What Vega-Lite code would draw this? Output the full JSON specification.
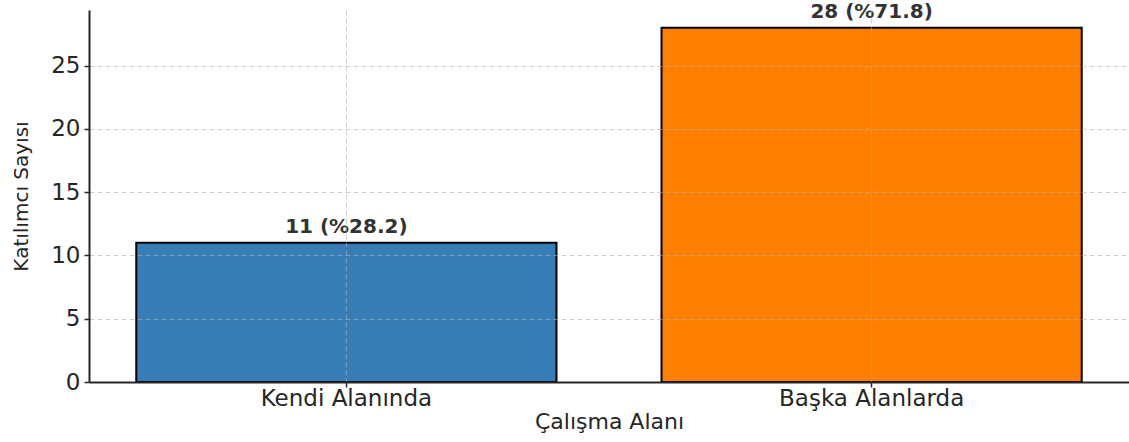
{
  "$schema": "https://vega.github.io/schema/vega-lite/v6.json",
  "width": 1040,
  "height": 372,
  "autosize": {"type": "none"},
  "padding": {"left": 89, "top": 10, "right": 0, "bottom": 60},
  "background": "white",
  "config": {"view": {"stroke": null}, "font": "DejaVu Sans"},
  "data": {
    "values": [
      {"area": "Kendi Alanında", "count": 11, "label": "11 (%28.2)"},
      {"area": "Başka Alanlarda", "count": 28, "label": "28 (%71.8)"}
    ]
  },
  "encoding": {
    "x": {
      "field": "area",
      "type": "nominal",
      "sort": null,
      "scale": {"paddingInner": 0.2, "paddingOuter": 0.09},
      "axis": {
        "title": "Çalışma Alanı",
        "titleFont": "DejaVu Sans",
        "titleFontSize": 22,
        "titleFontWeight": "normal",
        "titleColor": "#262626",
        "titleY": 46,
        "titleBaseline": "alphabetic",
        "labelAngle": 0,
        "labelLimit": 0,
        "labelFont": "DejaVu Sans",
        "labelFontSize": 23,
        "labelColor": "#262626",
        "labelPadding": 0,
        "tickSize": 5,
        "tickColor": "#262626",
        "tickWidth": 1.5,
        "domainColor": "#262626",
        "domainWidth": 2,
        "grid": true,
        "gridColor": "#b0b0b0",
        "gridOpacity": 0.6,
        "gridDash": [5, 3],
        "gridWidth": 1,
        "zindex": 1
      }
    }
  },
  "layer": [
    {
      "mark": {"type": "bar", "stroke": "black", "strokeWidth": 2},
      "encoding": {
        "y": {
          "field": "count",
          "type": "quantitative",
          "scale": {"domain": [0, 29.4], "nice": false},
          "axis": {
            "title": "Katılımcı Sayısı",
            "titleFont": "DejaVu Sans",
            "titleFontSize": 20,
            "titleFontWeight": "normal",
            "titleColor": "#262626",
            "titleX": -68,
            "titleY": 186,
            "titleAngle": 270,
            "titleAlign": "center",
            "titleBaseline": "middle",
            "values": [0, 5, 10, 15, 20, 25],
            "labelFont": "DejaVu Sans",
            "labelFontSize": 23,
            "labelColor": "#262626",
            "labelPadding": 4,
            "tickSize": 5,
            "tickColor": "#262626",
            "tickWidth": 1.5,
            "domainColor": "#262626",
            "domainWidth": 2,
            "grid": true,
            "gridColor": "#b0b0b0",
            "gridOpacity": 0.6,
            "gridDash": [5, 3],
            "gridWidth": 1,
            "zindex": 1
          }
        },
        "color": {
          "field": "area",
          "type": "nominal",
          "scale": {"domain": ["Kendi Alanında", "Başka Alanlarda"], "range": ["#377eb8", "#ff7f00"]},
          "legend": null
        }
      }
    },
    {
      "mark": {
        "type": "text",
        "font": "DejaVu Sans",
        "fontWeight": "bold",
        "fontSize": 20,
        "color": "#333333",
        "align": "center",
        "baseline": "alphabetic",
        "dy": -10
      },
      "encoding": {
        "y": {"field": "count", "type": "quantitative"},
        "text": {"field": "label"}
      }
    }
  ]
}
